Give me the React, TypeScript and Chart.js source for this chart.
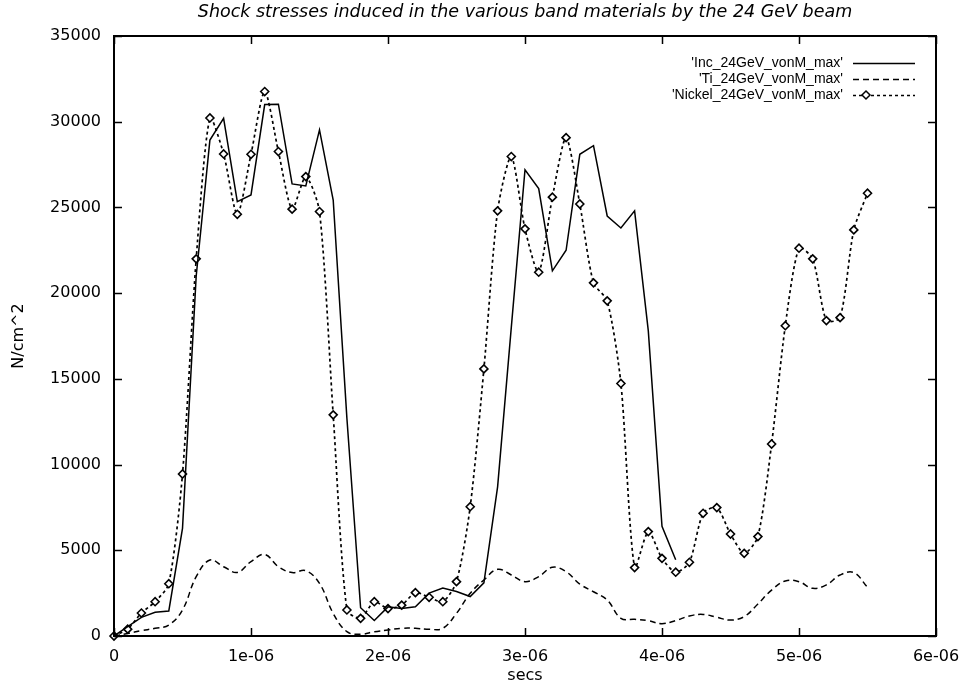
import React, { useEffect, useRef } from "react";
import { Chart, registerables } from "chart.js";

Chart.register(...registerables);

const chartTitle = "Shock stresses induced in the various band materials by the 24 GeV beam";
const xAxisTitle = "secs";
const yAxisTitle = "N/cm^2";

const xTickValues = [0, 1e-6, 2e-6, 3e-6, 4e-6, 5e-6, 6e-6];
const yTickValues = [0, 5000, 10000, 15000, 20000, 25000, 30000, 35000];

const timeSec = [
  0, 1e-7, 2e-7, 3e-7, 4e-7, 5e-7, 6e-7, 7e-7, 8e-7, 9e-7,
  1.0e-6, 1.1e-6, 1.2e-6, 1.3e-6, 1.4e-6, 1.5e-6, 1.6e-6, 1.7e-6, 1.8e-6, 1.9e-6,
  2.0e-6, 2.1e-6, 2.2e-6, 2.3e-6, 2.4e-6, 2.5e-6, 2.6e-6, 2.7e-6, 2.8e-6, 2.9e-6,
  3.0e-6, 3.1e-6, 3.2e-6, 3.3e-6, 3.4e-6, 3.5e-6, 3.6e-6, 3.7e-6, 3.8e-6, 3.9e-6,
  4.0e-6, 4.1e-6, 4.2e-6, 4.3e-6, 4.4e-6, 4.5e-6, 4.6e-6, 4.7e-6, 4.8e-6, 4.9e-6,
  5.0e-6, 5.1e-6, 5.2e-6, 5.3e-6, 5.4e-6, 5.5e-6,
];

const incLabel = "'Inc_24GeV_vonM_max'";
const incValues = [
  0, 550, 1090, 1380, 1460, 6280, 21000, 28930, 30200, 25340,
  25730, 31000, 31020, 26370, 26250, 29520, 25430, 12700, 1650, 900,
  1700, 1600, 1700, 2500, 2800, 2600, 2300, 3100, 8700, 18000,
  27200, 26100, 21300, 22500, 28100, 28600, 24500, 23800, 24800, 17800,
  6400, 4450,
];

const tiLabel = "'Ti_24GeV_vonM_max'";
const tiValues = [
  0, 150, 310, 450, 640, 1520, 3460, 4430, 4040, 3710,
  4340, 4760, 4040, 3700, 3810, 3070, 1320, 250, 100, 250,
  350, 450, 450, 390, 450, 1320, 2490, 3270, 3890, 3560,
  3170, 3460, 4010, 3750, 3030, 2580, 2100, 1030, 970, 890,
  720, 900, 1170, 1260, 1090, 930, 1130, 1870, 2680, 3210,
  3170, 2780, 2980, 3560, 3700, 2840,
];

const nickelLabel = "'Nickel_24GeV_vonM_max'";
const nickelValues = [
  0, 400, 1340, 2000, 3050, 9450, 22000, 30220, 28120, 24600,
  28100, 31760, 28260, 24900, 26800, 24760, 12900, 1520, 1030, 2000,
  1600, 1800, 2530, 2260, 2000, 3170, 7540, 15580, 24800, 27970,
  23750, 21220, 25600, 29070, 25200, 20600, 19550, 14730, 3990, 6090,
  4530, 3720, 4300, 7160, 7490, 5950, 4820, 5800, 11200, 18100,
  22620, 22000, 18400, 18570, 23690, 25830,
];

const toPoints = (vals: number[]) => vals.map((v, i) => ({ x: timeSec[i], y: v }));

const axisFont = { family: "'DejaVu Sans', sans-serif", size: 16 };

const framePlugin = {
  id: "gnuplotFrame",
  afterDraw(chart: any) {
    const { ctx, chartArea } = chart;
    const { left, right, top, bottom } = chartArea;
    const xs = chart.scales.x;
    const ys = chart.scales.y;
    ctx.save();
    ctx.strokeStyle = "#000";
    ctx.setLineDash([]);
    ctx.lineWidth = 1.5;
    const tl = 8;
    ctx.beginPath();
    xTickValues.forEach((v) => {
      const px = Math.round(xs.getPixelForValue(v)) + 0.5;
      ctx.moveTo(px, bottom);
      ctx.lineTo(px, bottom - tl);
      ctx.moveTo(px, top);
      ctx.lineTo(px, top + tl);
    });
    yTickValues.forEach((v) => {
      const py = Math.round(ys.getPixelForValue(v)) + 0.5;
      ctx.moveTo(left, py);
      ctx.lineTo(left + tl, py);
      ctx.moveTo(right, py);
      ctx.lineTo(right - tl, py);
    });
    ctx.stroke();
    ctx.lineWidth = 2;
    ctx.strokeRect(left, top, right - left, bottom - top);

    // legend (gnuplot style: label then sample)
    ctx.font = "14px 'Liberation Sans', Arial, sans-serif";
    ctx.textAlign = "right";
    ctx.textBaseline = "middle";
    ctx.fillStyle = "#000";
    const textRight = right - 93;
    const s0 = right - 83;
    const s1 = right - 21;
    chart.data.datasets.forEach((ds: any, i: number) => {
      const y = top + 27 + i * 16;
      ctx.fillText(ds.label, textRight, y);
      ctx.lineWidth = ds.borderWidth;
      ctx.setLineDash(ds.borderDash || []);
      ctx.beginPath();
      ctx.moveTo(s0, y + 0.5);
      ctx.lineTo(s1, y + 0.5);
      ctx.stroke();
      ctx.setLineDash([]);
      if (ds.pointRadius > 0) {
        const cx = s0 + 13;
        const r = ds.pointRadius;
        ctx.beginPath();
        ctx.moveTo(cx, y - r);
        ctx.lineTo(cx + r, y);
        ctx.lineTo(cx, y + r);
        ctx.lineTo(cx - r, y);
        ctx.closePath();
        ctx.fillStyle = "#fff";
        ctx.fill();
        ctx.lineWidth = 1.5;
        ctx.stroke();
        ctx.fillStyle = "#000";
      }
    });
    ctx.restore();
  },
};

export default function App() {
  const ref = useRef<HTMLCanvasElement | null>(null);
  useEffect(() => {
    document.body.style.margin = "0";
    document.body.style.background = "#fff";
    if (!ref.current) return;
    const chart = new Chart(ref.current, {
      type: "line",
      data: {
        datasets: [
          {
            label: incLabel,
            data: toPoints(incValues),
            borderColor: "#000",
            borderWidth: 1.5,
            pointRadius: 0,
            tension: 0,
            fill: false,
          },
          {
            label: tiLabel,
            data: toPoints(tiValues),
            borderColor: "#000",
            borderWidth: 1.5,
            borderDash: [6, 4],
            pointRadius: 0,
            tension: 0.4,
            fill: false,
          },
          {
            label: nickelLabel,
            data: toPoints(nickelValues),
            borderColor: "#000",
            borderWidth: 1.7,
            borderDash: [3, 3],
            pointRadius: 4,
            pointStyle: "rectRot",
            pointBackgroundColor: "#fff",
            pointBorderColor: "#000",
            pointBorderWidth: 1.6,
            tension: 0.25,
            fill: false,
            clip: 8,
          } as any,
        ],
      },
      options: {
        animation: false,
        responsive: false,
        devicePixelRatio: 1,
        layout: { padding: { left: 0, right: 27, top: 0, bottom: 0 } },
        plugins: {
          legend: { display: false },
          tooltip: { enabled: false },
          title: {
            display: true,
            fullSize: false,
            text: chartTitle,
            color: "#000",
            font: { family: "'DejaVu Sans', sans-serif", size: 17.5, style: "italic", weight: "normal", lineHeight: 1.2 },
            padding: { top: 2, bottom: 13 },
          },
        },
        scales: {
          x: {
            type: "linear",
            min: 0,
            max: 6e-6,
            grid: { display: false, drawTicks: false },
            border: { display: false },
            afterBuildTicks: (s: any) => {
              s.ticks = xTickValues.map((v) => ({ value: v }));
            },
            afterFit: (s: any) => {
              s.height = 49;
              s.paddingLeft = 0;
              s.paddingRight = 0;
            },
            ticks: {
              color: "#000",
              font: axisFont,
              padding: 11,
              maxRotation: 0,
              autoSkip: false,
              callback: (v: any) => (v === 0 ? "0" : `${Math.round(Number(v) * 1e6)}e-06`),
            },
            title: {
              display: true,
              text: xAxisTitle,
              color: "#000",
              font: axisFont,
              padding: { top: 0, bottom: 0 },
            },
          },
          y: {
            type: "linear",
            min: 0,
            max: 35000,
            grid: { display: false, drawTicks: false },
            border: { display: false },
            afterBuildTicks: (s: any) => {
              s.ticks = yTickValues.map((v) => ({ value: v }));
            },
            afterFit: (s: any) => {
              s.width = 114;
              s.paddingTop = 0;
              s.paddingBottom = 0;
            },
            ticks: {
              color: "#000",
              font: axisFont,
              padding: 13,
              autoSkip: false,
              callback: (v: any) => String(v),
            },
            title: {
              display: true,
              text: yAxisTitle,
              color: "#000",
              font: axisFont,
              padding: { top: 9, bottom: 0 },
            },
          },
        },
      },
      plugins: [framePlugin],
    });
    return () => chart.destroy();
  }, []);
  return (
    <div style={{ width: 963, height: 685, background: "#fff" }}>
      <canvas ref={ref} width={963} height={685} style={{ display: "block" }} />
    </div>
  );
}
